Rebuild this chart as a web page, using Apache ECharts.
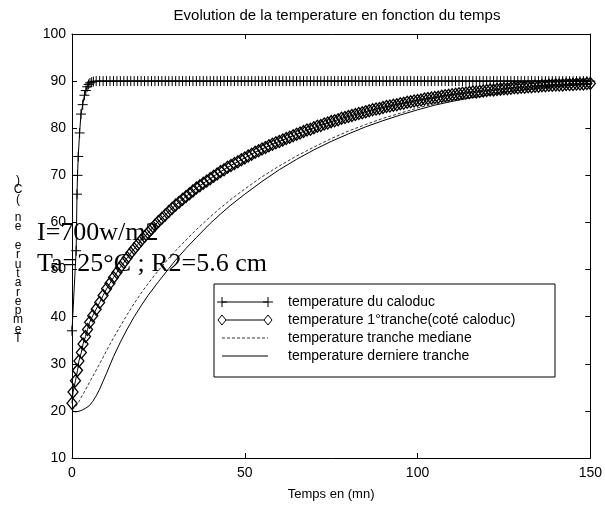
<!DOCTYPE html>
<html><head><meta charset="utf-8">
<script src="https://cdn.jsdelivr.net/npm/echarts@6/dist/echarts.min.js"></script>
<style>html,body{margin:0;padding:0;background:#fff}#c{width:605px;height:506px}</style>
</head><body><div id="c"></div>
<script>
const titleText = "Evolution de la temperature en fonction du temps";
const xAxisName = "Temps en (mn)";
const yAxisLabel = "Temperature en (C)";
const note1 = "I=700w/m2";
const note2 = "Ta=25°C ; R2=5.6 cm";
const seriesNames = ["temperature du caloduc", "temperature 1°tranche(coté caloduc)", "temperature tranche mediane", "temperature derniere tranche"];

const caloduc = [[0,37],[1.2,54],[1.45,66],[1.6,70],[1.8,74],[2.2,79],[2.6,83],[3.1,85],[3.6,87],[4.0,88],[4.4,88.8],[4.8,89.3],[5.2,89.6],[5.7,89.8],[6.2,89.9],
[7,90],[8,90],[9,90],[10,90],[11,90],[12,90],[13,90],[14,90],[15,90],[16,90],[17,90],[18,90],[19,90],[20,90],
[21,90],[22,90],[23,90],[24,90],[25,90],[26,90],[27,90],[28,90],[29,90],[30,90],[31,90],[32,90],[33,90],[34,90],[35,90],
[36,90],[37,90],[38,90],[39,90],[40,90],[41,90],[42,90],[43,90],[44,90],[45,90],[46,90],[47,90],[48,90],[49,90],[50,90],
[51,90],[52,90],[53,90],[54,90],[55,90],[56,90],[57,90],[58,90],[59,90],[60,90],[61,90],[62,90],[63,90],[64,90],[65,90],
[66,90],[67,90],[68,90],[69,90],[70,90],[71,90],[72,90],[73,90],[74,90],[75,90],[76,90],[77,90],[78,90],[79,90],[80,90],
[81,90],[82,90],[83,90],[84,90],[85,90],[86,90],[87,90],[88,90],[89,90],[90,90],[91,90],[92,90],[93,90],[94,90],[95,90],
[96,90],[97,90],[98,90],[99,90],[100,90],[101,90],[102,90],[103,90],[104,90],[105,90],[106,90],[107,90],[108,90],[109,90],[110,90],
[111,90],[112,90],[113,90],[114,90],[115,90],[116,90],[117,90],[118,90],[119,90],[120,90],[121,90],[122,90],[123,90],[124,90],[125,90],
[126,90],[127,90],[128,90],[129,90],[130,90],[131,90],[132,90],[133,90],[134,90],[135,90],[136,90],[137,90],[138,90],[139,90],[140,90],
[141,90],[142,90],[143,90],[144,90],[145,90],[146,90],[147,90],[148,90],[149,90],[150,90]];

const tranche1 = [[0,21.6],[0.3,24.0],[1.0,26.4],[1.6,28.6],[2.0,30.6],[2.7,32.4],[3.2,34.2],[3.9,35.8],[4.5,37.3],[5.1,38.8],
[6,40.2],[7,41.6],[8,43.0],[9,44.5],[10,45.9],[11,47.1],[12,48.3],[13,49.4],[14,50.5],[15,51.5],
[16,52.5],[17,53.5],[18,54.4],[19,55.3],[20,56.2],[21,57.0],[22,57.8],[23,58.6],[24,59.4],[25,60.2],
[26,60.9],[27,61.6],[28,62.3],[29,63.0],[30,63.7],[31,64.3],[32,64.9],[33,65.5],[34,66.1],[35,66.7],
[36,67.3],[37,67.8],[38,68.3],[39,68.8],[40,69.3],[41,69.8],[42,70.3],[43,70.8],[44,71.2],[45,71.7],
[46,72.1],[47,72.5],[48,72.9],[49,73.3],[50,73.7],[51,74.1],[52,74.5],[53,74.9],[54,75.2],[55,75.6],
[56,75.9],[57,76.3],[58,76.6],[59,76.9],[60,77.2],[61,77.5],[62,77.8],[63,78.1],[64,78.4],[65,78.7],
[66,79.0],[67,79.3],[68,79.6],[69,79.8],[70,80.1],[71,80.4],[72,80.6],[73,80.9],[74,81.1],[75,81.4],
[76,81.6],[77,81.8],[78,82.1],[79,82.3],[80,82.5],[81,82.7],[82,82.9],[83,83.1],[84,83.3],[85,83.5],
[86,83.7],[87,83.9],[88,84.1],[89,84.2],[90,84.4],[91,84.6],[92,84.7],[93,84.9],[94,85.0],[95,85.2],
[96,85.3],[97,85.5],[98,85.6],[99,85.8],[100,85.9],[101,86.0],[102,86.2],[103,86.3],[104,86.4],[105,86.5],
[106,86.6],[107,86.8],[108,86.9],[109,87.0],[110,87.1],[111,87.2],[112,87.3],[113,87.4],[114,87.5],[115,87.6],
[116,87.7],[117,87.7],[118,87.8],[119,87.9],[120,88.0],[121,88.1],[122,88.1],[123,88.2],[124,88.3],[125,88.4],
[126,88.4],[127,88.5],[128,88.6],[129,88.6],[130,88.7],[131,88.7],[132,88.8],[133,88.8],[134,88.9],[135,88.9],
[136,89.0],[137,89.0],[138,89.1],[139,89.1],[140,89.2],[141,89.2],[142,89.2],[143,89.3],[144,89.3],[145,89.3],
[146,89.4],[147,89.4],[148,89.4],[149,89.5],[150,89.5]];

const mediane = [[0,20.2],[1,20.8],[2,22.0],[3,23.3],[4,24.6],[5,26.0],[6,27.3],[8,30.0],[10,32.8],[12,35.5],[14,38.0],[16,40.5],[18,42.8],[20,45.0],[22,47.0],[25,49.8],[28,52.4],[30,54.0],[33,56.3],[36,58.5],[40,61.2],[43,63.1],[46,64.9],[50,67.1],[55,69.7],[60,72.0],[65,74.1],[70,76.0],[75,77.8],[80,79.4],[85,80.8],[90,82.1],[95,83.2],[100,84.3],[105,85.2],[110,86.0],[115,86.7],[120,87.3],[125,87.8],[130,88.3],[135,88.7],[140,89.0],[145,89.2],[150,89.4]];

const derniere = [[0,20.0],[1,19.8],[2,19.9],[3,20.2],[4,20.6],[5,21.1],[6,22.0],[7,23.2],[8,24.6],[9,26.3],[10,28.0],[12,31.5],[14,34.6],[16,37.4],[18,40.0],[20,42.3],[22,44.5],[25,47.4],[28,50.2],[30,52.0],[33,54.5],[36,56.8],[40,59.8],[43,61.8],[46,63.7],[50,66.0],[55,68.7],[60,71.2],[65,73.4],[70,75.4],[75,77.2],[80,78.8],[85,80.3],[90,81.6],[95,82.8],[100,83.9],[105,84.9],[110,85.7],[115,86.4],[120,87.0],[125,87.6],[130,88.1],[135,88.5],[140,88.8],[145,89.1],[150,89.3]];

const xMin = 0, xMax = 150, xStep = 50;
const yMin = 10, yMax = 100, yStep = 10;

const plusPath = 'path://M0,5L10,5M5,0L5,10';
const FS = "Liberation Sans, Arial, sans-serif";
const SERIF = "Liberation Serif, Times New Roman, serif";
const tickLen = 5;

const chart = echarts.init(document.getElementById('c'), null, {renderer: 'canvas'});

const L = {x0: 214, y0: 284, w: 341, h: 93, rows: [302, 320, 338, 356], lx1: 222, lx2: 268, tx: 288};

const legendChildren = [
  {type: 'rect', shape: {x: L.x0, y: L.y0, width: L.w, height: L.h}, style: {fill: '#fff', stroke: '#000', lineWidth: 1}}
];
const rowStyles = ['plus', 'diamond', 'dash', 'solid'];
rowStyles.forEach((st, i) => {
  const y = L.rows[i];
  legendChildren.push({type: 'line', shape: {x1: L.lx1, y1: y, x2: L.lx2, y2: y},
    style: {stroke: '#000', lineWidth: st === 'dash' ? 0.8 : 1, lineDash: st === 'dash' ? [3, 2] : null}});
  if (st === 'plus') {
    [L.lx1, L.lx2].forEach(cx => {
      legendChildren.push({type: 'line', shape: {x1: cx - 5, y1: y, x2: cx + 5, y2: y}, style: {stroke: '#000', lineWidth: 1}});
      legendChildren.push({type: 'line', shape: {x1: cx, y1: y - 5, x2: cx, y2: y + 5}, style: {stroke: '#000', lineWidth: 1}});
    });
  }
  if (st === 'diamond') {
    [L.lx1, L.lx2].forEach(cx => {
      legendChildren.push({type: 'polygon', shape: {points: [[cx, y - 5], [cx + 4, y], [cx, y + 5], [cx - 4, y]]}, style: {fill: '#fff', stroke: '#000', lineWidth: 1}});
    });
  }
  legendChildren.push({type: 'text', style: {text: seriesNames[i], x: L.tx, y: y, font: '14px ' + FS, fill: '#000', textVerticalAlign: 'middle'}});
});

const option = {
  animation: false,
  backgroundColor: '#fff',
  title: {text: titleText, left: 332, top: 3, textAlign: 'center',
    textStyle: {fontFamily: FS, fontSize: 15, fontWeight: 'normal', color: '#000'}},
  grid: {left: 72, right: 13, top: 34, bottom: 47, containLabel: false},
  xAxis: [
    {type: 'value', min: xMin, max: xMax, interval: xStep, position: 'bottom',
      axisLine: {show: true, onZero: false, lineStyle: {color: '#000', width: 1}},
      axisTick: {show: true, inside: true, length: tickLen, lineStyle: {color: '#000'}},
      axisLabel: {color: '#000', fontFamily: FS, fontSize: 14, margin: 8},
      splitLine: {show: false},
      name: xAxisName, nameLocation: 'middle', nameGap: 30,
      nameTextStyle: {color: '#000', fontFamily: FS, fontSize: 13}},
    {type: 'value', min: xMin, max: xMax, interval: xStep, position: 'top',
      axisLine: {show: true, onZero: false, lineStyle: {color: '#000', width: 1}},
      axisTick: {show: true, inside: true, length: tickLen, lineStyle: {color: '#000'}},
      axisLabel: {show: false}, splitLine: {show: false}}
  ],
  yAxis: [
    {type: 'value', min: yMin, max: yMax, interval: yStep, position: 'left',
      axisLine: {show: true, onZero: false, lineStyle: {color: '#000', width: 1}},
      axisTick: {show: true, inside: true, length: tickLen, lineStyle: {color: '#000'}},
      axisLabel: {color: '#000', fontFamily: FS, fontSize: 14, margin: 6},
      splitLine: {show: false}},
    {type: 'value', min: yMin, max: yMax, interval: yStep, position: 'right',
      axisLine: {show: true, onZero: false, lineStyle: {color: '#000', width: 1}},
      axisTick: {show: true, inside: true, length: tickLen, lineStyle: {color: '#000'}},
      axisLabel: {show: false}, splitLine: {show: false}}
  ],
  series: [
    {name: seriesNames[3], type: 'line', data: derniere, showSymbol: false, symbol: 'none',
      lineStyle: {color: '#000', width: 1}},
    {name: seriesNames[2], type: 'line', data: mediane, showSymbol: false, symbol: 'none',
      lineStyle: {color: '#000', width: 0.8, type: [3, 2]}},
    {name: seriesNames[1], type: 'line', data: tranche1, symbol: 'diamond', symbolSize: [10, 12],
      lineStyle: {color: '#000', width: 1},
      itemStyle: {color: 'none', borderColor: '#000', borderWidth: 1.3}},
    {name: seriesNames[0], type: 'line', data: caloduc, symbol: plusPath, symbolSize: [10, 10],
      lineStyle: {color: '#000', width: 1},
      itemStyle: {color: 'none', borderColor: '#000', borderWidth: 1}}
  ],
  graphic: [
    {type: 'text', z: 100, style: {text: yAxisLabel.split('').reverse().join('\n'), x: 18, y: 176,
      font: '12px ' + FS, fill: '#000', textAlign: 'center', lineHeight: 9.3}},
    {type: 'text', z: 100, style: {text: note1, x: 37, y: 220, font: '26px ' + SERIF, fill: '#000'}},
    {type: 'text', z: 100, style: {text: note2, x: 37, y: 251, font: '26px ' + SERIF, fill: '#000'}},
    {type: 'group', z: 100, children: legendChildren}
  ]
};
chart.setOption(option);
</script>
</body></html>
